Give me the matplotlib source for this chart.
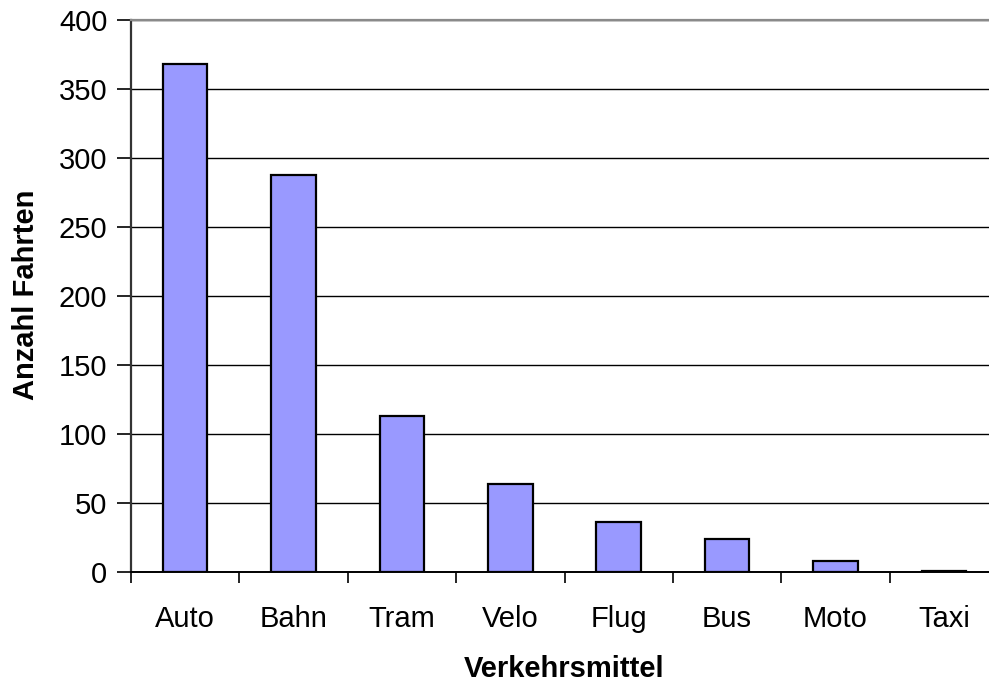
import matplotlib
matplotlib.use("Agg")
import matplotlib.pyplot as plt
import numpy as np

categories = ["Auto", "Bahn", "Tram", "Velo", "Flug", "Bus", "Moto", "Taxi"]
fahrten = [368, 288, 113, 64, 36, 24, 8, 1]
y_ticks = [0, 50, 100, 150, 200, 250, 300, 350, 400]

plt.rcParams["font.family"] = ["Liberation Sans", "DejaVu Sans"]

fig = plt.figure(figsize=(9.89, 6.84), dpi=100)
# plot area runs past the right edge of the figure
ax = fig.add_axes([131 / 989, 112 / 684, 867 / 989, 552 / 684])

x = np.arange(len(categories))
ax.bar(x, fahrten, width=0.41, color="#9999FF", edgecolor="black",
       linewidth=1.6, zorder=3)

ax.set_xlim(-0.5, len(categories) - 0.5)
ax.set_ylim(0, 400)
ax.set_yticks(y_ticks)
ax.set_yticklabels([str(v) for v in y_ticks], fontsize=21)
ax.tick_params(axis="y", direction="out", length=10, width=1.2, pad=7,
               colors="black")

# category labels at centres, tick marks between categories
ax.set_xticks(x)
ax.set_xticklabels(categories, fontsize=21)
ax.tick_params(axis="x", which="major", length=0, pad=24)
ax.set_xticks(np.arange(len(categories) + 1) - 0.5, minor=True)
ax.tick_params(axis="x", which="minor", direction="out", length=8, width=1.2)

ax.yaxis.grid(True, color="black", linewidth=1.0, zorder=0)
ax.set_axisbelow(True)

ax.spines["right"].set_visible(False)
ax.spines["top"].set_color("#8a8a8a")
ax.spines["top"].set_linewidth(1.6)
ax.spines["left"].set_color("#333333")
ax.spines["left"].set_linewidth(1.6)
ax.spines["bottom"].set_color("black")
ax.spines["bottom"].set_linewidth(1.4)

fig.text(26 / 989, 1 - 295 / 684, "Anzahl Fahrten", rotation=90,
         fontsize=21, fontweight="bold", ha="center", va="center")
fig.text(564 / 989, 1 - 677 / 684, "Verkehrsmittel",
         fontsize=21, fontweight="bold", ha="center", va="baseline")

fig.savefig("out.png", dpi=100, facecolor="white")
